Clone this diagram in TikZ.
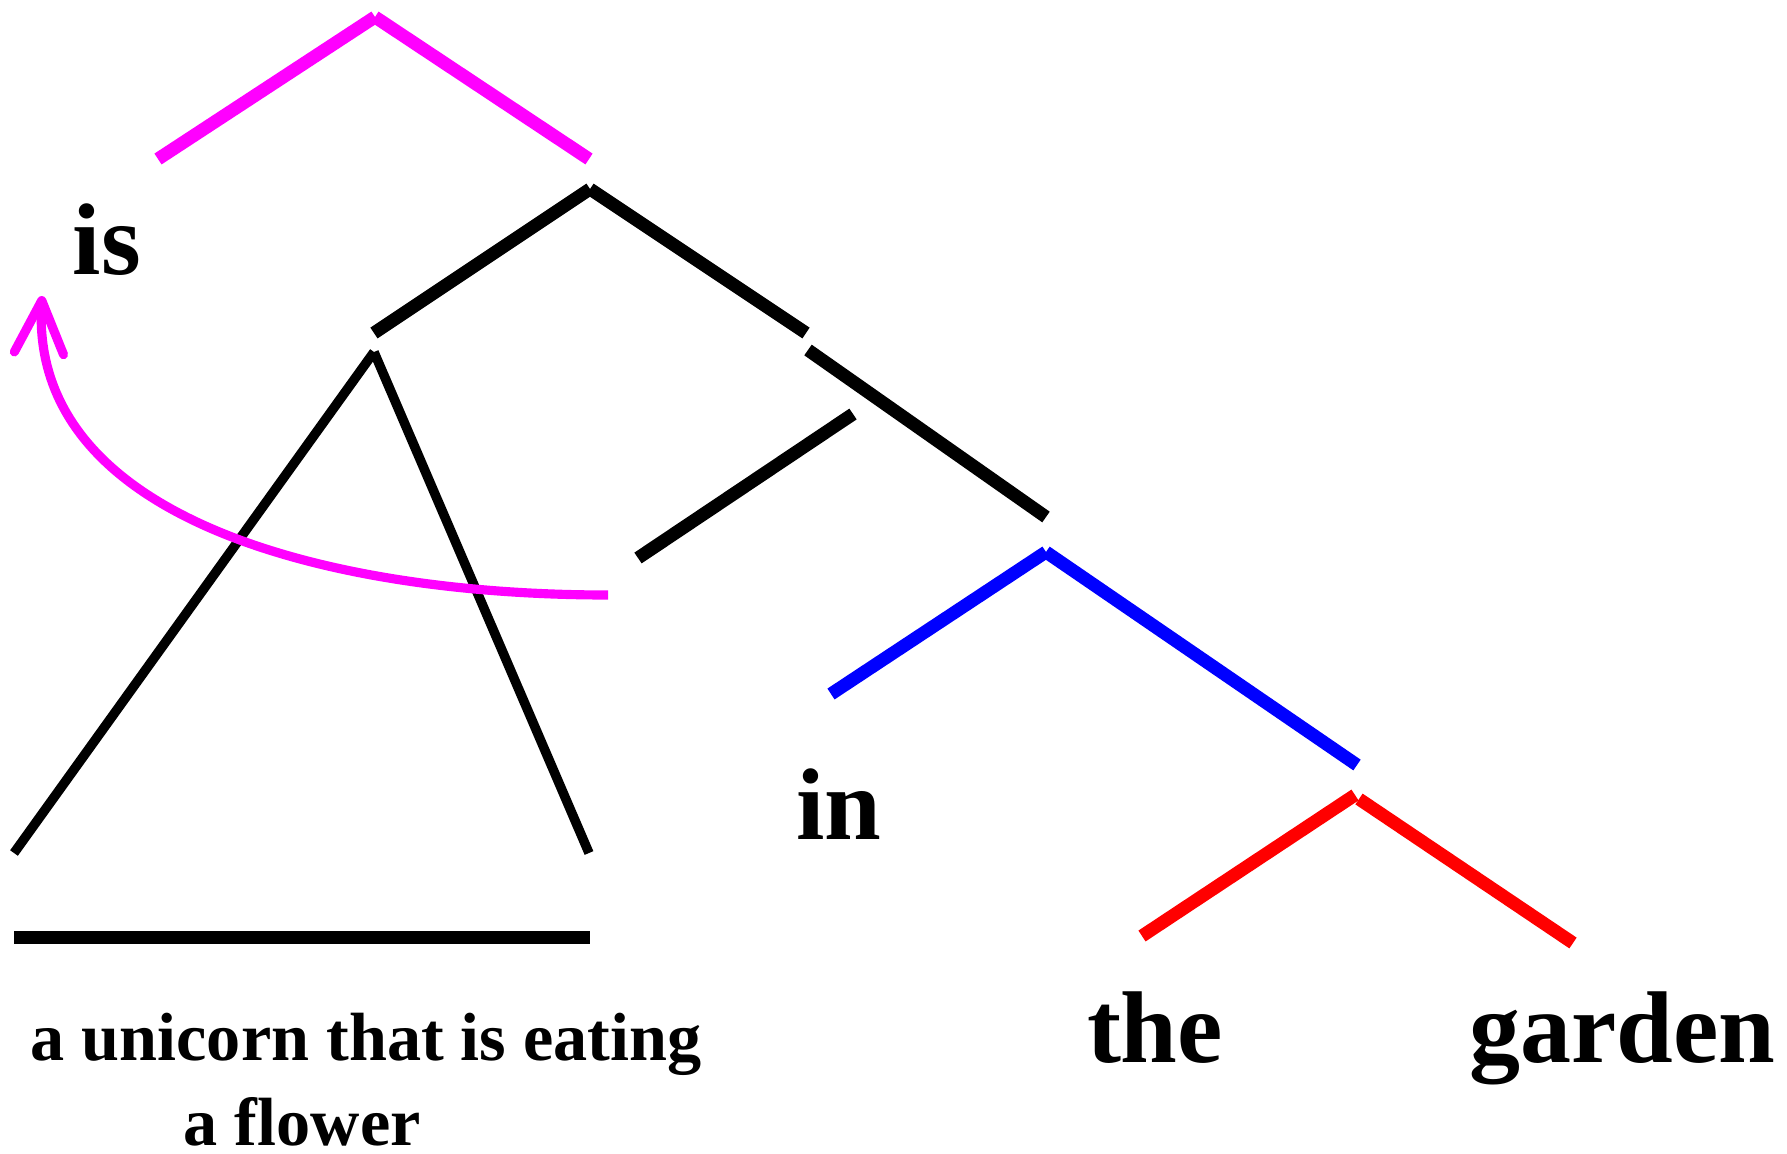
\documentclass[tikz,border=0pt]{standalone}
\usepackage{fontspec}
\setmainfont{Liberation Serif}
\usepackage{xcolor}
\definecolor{fuchsia}{HTML}{FF00FF}
\definecolor{royal}{HTML}{0000FF}
\definecolor{scarlet}{HTML}{FF0000}
\usepackage{tikz}
\usetikzlibrary{arrows.meta}

\begin{document}
\begin{tikzpicture}[x=0.01cm, y=-0.01cm,
    bigbranch/.style={line width=3.7pt},
    smallbranch/.style={line width=2.7pt},
    word/.style={font=\fontsize{29}{35}\selectfont\bfseries, inner sep=0pt, anchor=base},
    phrase/.style={font=\fontsize{19.4}{24.1}\selectfont\bfseries, inner sep=0pt, align=left, anchor=base west}]
  \useasboundingbox (0,0) rectangle (1787,1154);

  % branch points
  \coordinate (cp) at (375,17);
  \coordinate (cpL) at (158,159);
  \coordinate (cpR) at (589,159);
  \coordinate (tp) at (590,189);
  \coordinate (tpL) at (374,333);
  \coordinate (tpR) at (806,333);
  \coordinate (tbar) at (808,350);
  \coordinate (tbarR) at (1046,517);
  \coordinate (sp) at (853,414);
  \coordinate (spL) at (638,558);
  \coordinate (pp) at (1046,552);
  \coordinate (ppL) at (831,694);
  \coordinate (ppR) at (1357,765);
  \coordinate (dp) at (1355,795);
  \coordinate (dpB) at (1359,799);
  \coordinate (dpL) at (1142,936);
  \coordinate (dpR) at (1573,943);
  \coordinate (np) at (374,352);
  \coordinate (npL) at (14,853);
  \coordinate (npR) at (589,853);
  \coordinate (barL) at (14,937);
  \coordinate (barR) at (590,937);
  \coordinate (mvS) at (608,595);
  \coordinate (mvE) at (42,296);

  % words
  \node[word] (is) at (107,274) {is};
  \node[word] (in) at (839,839) {in};
  \node[word] (the) at (1155,1062) {the};
  \node[word] (garden) at (1622,1062) {garden};
  \node[phrase] (subj) at (30,1145) {a unicorn that is eating\\\hspace*{1.53cm}a flower};

  % CP
  \draw[bigbranch, fuchsia] (cpL) -- (cp);
  \draw[bigbranch, fuchsia] (cp) -- (cpR);

  % TP
  \draw[bigbranch] (tpL) -- (tp);
  \draw[bigbranch] (tp) -- (tpR);
  \draw[bigbranch] (tbar) -- (tbarR);
  \draw[bigbranch] (spL) -- (sp);

  % PP and DP
  \draw[bigbranch, royal] (ppL) -- (pp);
  \draw[bigbranch, royal] (pp) -- (ppR);
  \draw[bigbranch, scarlet] (dpL) -- (dp);
  \draw[bigbranch, scarlet] (dpB) -- (dpR);

  % subject triangle
  \draw[smallbranch] (npL) -- (np);
  \draw[smallbranch] (np) -- (npR);
  \draw[bigbranch] (barL) -- (barR);

  % movement
  \draw[fuchsia, line width=2.6pt, -{Straight Barb[length=15pt, width=14pt, round]}]
    (mvS) .. controls (330,595) and (30,520) .. (mvE);
\end{tikzpicture}
\end{document}
